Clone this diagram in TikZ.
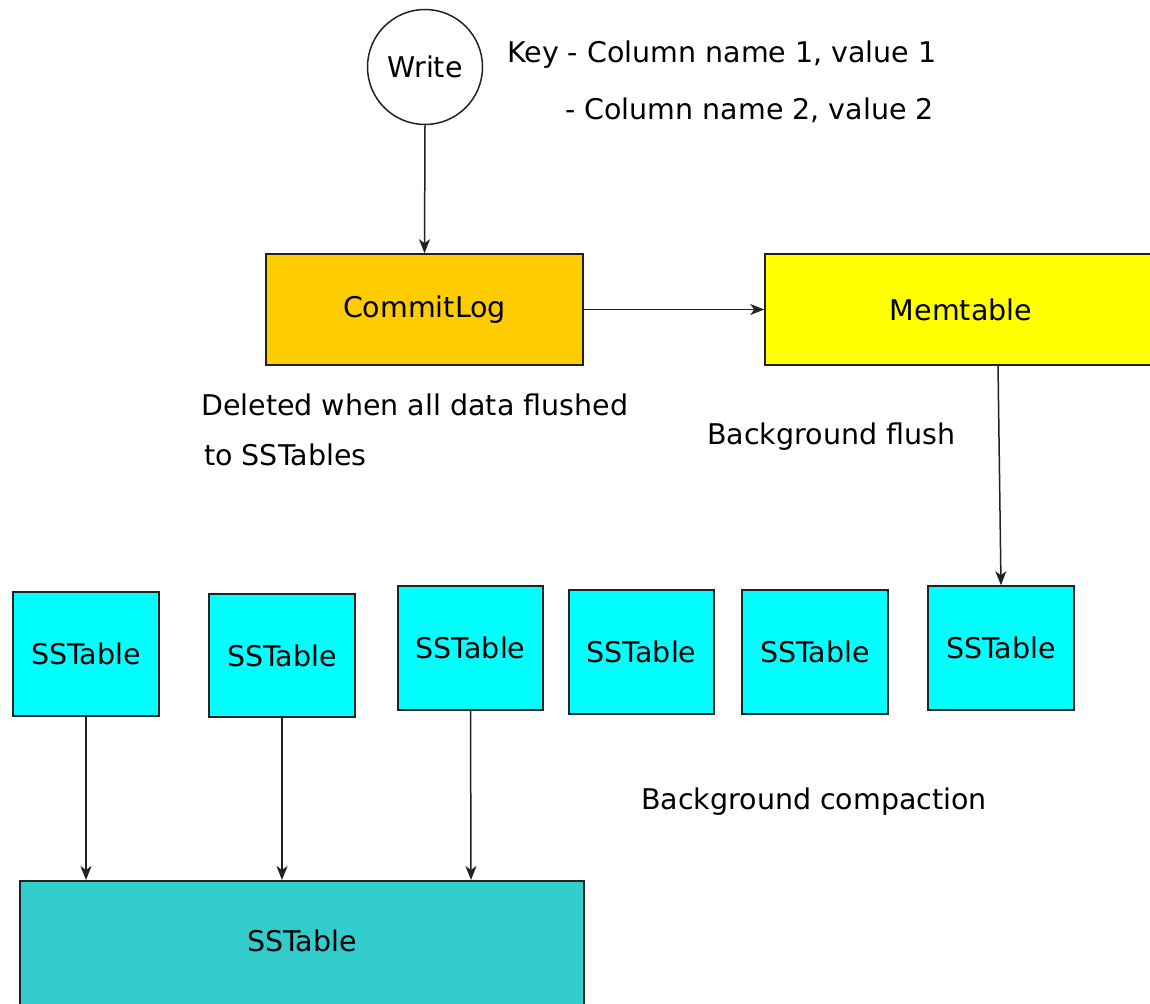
\documentclass[tikz,border=0pt]{standalone}
\usepackage{fontspec}
\setmainfont{DejaVu Sans}
\usetikzlibrary{arrows.meta}
\definecolor{commitc}{HTML}{FFCC00}
\definecolor{memc}{HTML}{FFFF00}
\definecolor{ssc}{HTML}{00FFFF}
\definecolor{bigc}{HTML}{33CCCC}
\definecolor{linec}{HTML}{222222}
\begin{document}
\begin{tikzpicture}[x=1pt,y=-1pt,
  every node/.style={font=\fontsize{28.5}{34}\selectfont, inner sep=0pt},
  box/.style={draw=linec, line width=1.6pt, rectangle},
  ss/.style={box, fill=ssc, minimum width=146pt, minimum height=124pt},
  lbl/.style={anchor=west},
  conn/.style={draw=linec, line width=1.5pt, -{Stealth[length=14pt,width=11pt,inset=4pt]}}]
\useasboundingbox (0,0) rectangle (1150,1003);
\clip (0,0) rectangle (1150,1003);
% Write
\node[circle, draw=linec, line width=1.5pt, minimum size=115pt] (write) at (425,67) {Write};
\node[lbl] (key1) at (507,55) {Key - Column name 1, value 1};
\node[lbl] (key2) at (565,110) {- Column name 2, value 2};
% CommitLog and Memtable
\node[box, fill=commitc, minimum width=317pt, minimum height=111pt] (commit) at (424.5,309.5) {CommitLog};
\node[box, fill=memc, minimum width=392pt, minimum height=111pt] (mem) at (961,309.5) {Memtable};
\node[lbl] (del1) at (201,405) {Deleted when all data flushed};
\node[lbl] (del2) at (204,455) {to SSTables};
\node[lbl] (bgflush) at (707,437) {Background flush};
% SSTables
\node[ss] (s1) at (86,654) {SSTable};
\node[ss, minimum height=123pt] (s2) at (282,655.5) {SSTable};
\node[ss, minimum width=145pt] (s3) at (470.5,648) {SSTable};
\node[ss, minimum width=145pt] (s4) at (641.5,652) {SSTable};
\node[ss] (s5) at (815,652) {SSTable};
\node[ss] (s6) at (1001,648) {SSTable};
\node[lbl] (bgcomp) at (641,802) {Background compaction};
% big SSTable
\node[box, fill=bigc, minimum width=564pt, minimum height=126pt, anchor=north west] (big) at (19,880) {};
\node (bigt) at (302,941) {SSTable};
% connectors
\draw[conn] (write.south) -- (commit.north);
\draw[conn] (commit.east) -- (mem.west);
\coordinate (memout) at (998,365);
\draw[conn] (memout) -- (s6.north);
\coordinate (b1) at (86,880);
\coordinate (b2) at (282,880);
\coordinate (b3) at (471,880);
\draw[conn] (s1.south) -- (b1);
\draw[conn] (s2.south) -- (b2);
\draw[conn] (s3.south) -- (b3);
\end{tikzpicture}
\end{document}
